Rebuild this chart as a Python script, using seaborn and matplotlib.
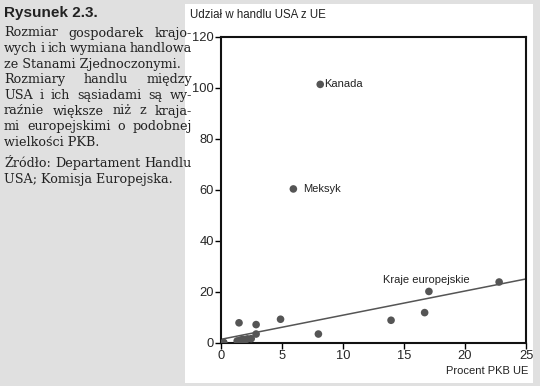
import numpy as np
import pandas as pd
import seaborn as sns
import matplotlib.pyplot as plt
from matplotlib.patches import Rectangle

# Data
gdp_share = [0.25, 1.35, 1.6, 1.8, 2.0, 2.2, 2.5, 1.9, 1.5, 2.9, 2.9, 4.9,
             8.0, 13.95, 16.7, 17.05, 22.8, 5.95, 8.15]
trade_share = [0.1, 0.7, 1.0, 1.3, 1.2, 1.5, 1.6, 0.6, 7.8, 7.1, 3.4, 9.2,
               3.4, 8.8, 11.8, 20.1, 23.8, 60.3, 101.3]
trend_x = [0, 25]
trend_y = [1.3, 25.0]

labels = ["Kanada", "Meksyk", "Kraje europejskie"]
label_x = [8.45, 6.75, 13.3]
label_y = [101.3, 60.3, 24.6]

x_ticks = [0, 5, 10, 15, 20, 25]
y_ticks = [0, 20, 40, 60, 80, 100, 120]

caption_lines = [
    ("Rozmiar gospodarek krajo-", True),
    ("wych i ich wymiana handlowa", True),
    ("ze Stanami Zjednoczonymi.", False),
    ("Rozmiary handlu między", True),
    ("USA i ich sąsiadami są wy-", True),
    ("raźnie większe niż z kraja-", True),
    ("mi europejskimi o podobnej", True),
    ("wielkości PKB.", False),
]
source_lines = [
    ("Źródło: Departament Handlu", True),
    ("USA; Komisja Europejska.", False),
]

df = pd.DataFrame({"gdp": gdp_share, "trade": trade_share})
trend = pd.DataFrame({"x": trend_x, "y": trend_y})

sns.set_theme(style="white")
plt.rcParams["font.family"] = ["Liberation Sans", "DejaVu Sans"]

bg = "#e0e0e0"
fig = plt.figure(figsize=(5.4, 3.86), dpi=100, facecolor=bg)
fig.patches.append(Rectangle((185 / 540, 3 / 386), 348 / 540, 379 / 386,
                             transform=fig.transFigure, facecolor="white",
                             edgecolor="none", zorder=-10))

ax = fig.add_axes([220.7 / 540, 43.3 / 386, 305.3 / 540, 306 / 386])
ax.set_facecolor("white")
ax.set_zorder(2)

sns.lineplot(data=trend, x="x", y="y", ax=ax, color="#555555", lw=1.1)
sns.scatterplot(data=df, x="gdp", y="trade", ax=ax, color="#555555",
                s=30, edgecolor="none", zorder=3)

for lab, lx, ly in zip(labels, label_x, label_y):
    ax.text(lx, ly, lab, fontsize=8, color="#222222", va="center", ha="left")

ax.set_xlim(0, 25)
ax.set_ylim(0, 120)
ax.set_xticks(x_ticks)
ax.set_yticks(y_ticks)
ax.tick_params(axis="both", length=4, width=1, color="black", direction="out",
               labelsize=9.3, pad=1, left=True, bottom=True)
for sp in ax.spines.values():
    sp.set_color("#111111")
    sp.set_linewidth(1.5)
ax.set_xlabel("")
ax.set_ylabel("")

fig.text(190 / 540, (386 - 15) / 386, "Udział w handlu USA z UE",
         fontsize=8.3, va="center", ha="left", color="#222222")
fig.text(528 / 540, (386 - 371) / 386, "Procent PKB UE",
         fontsize=8, va="center", ha="right", color="#222222")

# Left-hand caption
fig.text(4 / 540, (386 - 13) / 386, "Rysunek 2.3.", fontsize=11,
         fontweight="bold", va="center", ha="left", color="#222222",
         family=["Liberation Sans Narrow", "Liberation Sans"])

fig.canvas.draw()
renderer = fig.canvas.get_renderer()
left_px, right_px = 4, 192
cap_size = 9.2
cap_font = "DejaVu Serif"


def justified_line(line, y_px, justify):
    words = line.split(" ")
    ypos = (386 - y_px) / 386
    if not justify or len(words) == 1:
        fig.text(left_px / 540, ypos, line, fontsize=cap_size, va="center",
                 ha="left", family=cap_font, color="#222222")
        return
    widths = []
    for w in words:
        t = fig.text(0, 0, w, fontsize=cap_size, family=cap_font)
        widths.append(t.get_window_extent(renderer).width)
        t.remove()
    gap = (right_px - left_px - sum(widths)) / (len(words) - 1)
    gap = max(gap, 1.5)
    x = left_px
    for w, wd in zip(words, widths):
        fig.text(x / 540, ypos, w, fontsize=cap_size, va="center", ha="left",
                 family=cap_font, color="#222222")
        x += wd + gap


y = 33
for line, just in caption_lines:
    justified_line(line, y, just)
    y += 15.6
y = 164
for line, just in source_lines:
    justified_line(line, y, just)
    y += 15.6

fig.savefig("out.png", dpi=100, facecolor=bg)
